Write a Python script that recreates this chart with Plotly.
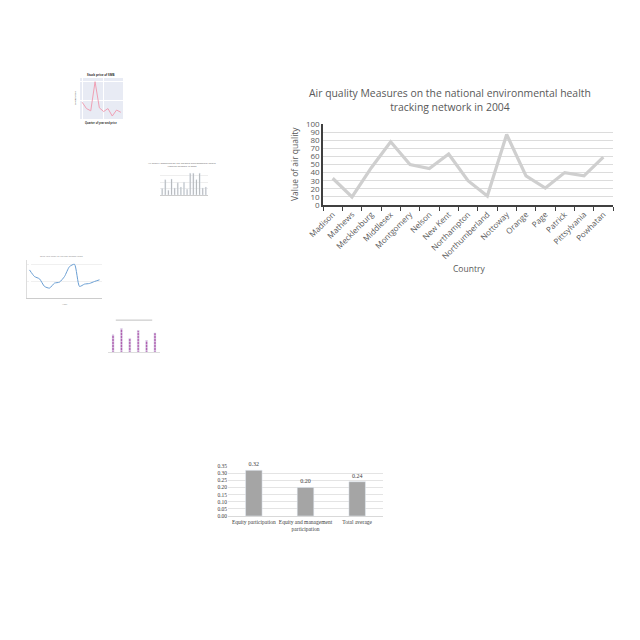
import plotly.graph_objects as go

# ---------------- data ----------------
countries = ["Madison", "Mathews", "Mecklenburg", "Middlesex", "Montgomery", "Nelson",
             "New Kent", "Northampton", "Northumberland", "Nottoway", "Orange", "Page",
             "Patrick", "Pittsylvania", "Powhatan"]
air_quality = [33, 10, 46, 78, 50, 45, 63, 30, 11, 87, 36, 21, 40, 36, 59]

bar_cats = ["Equity participation", "Equity and management<br>participation", "Total average"]
bar_vals = [0.32, 0.20, 0.24]
bar_labels = ["0.32", "0.20", "0.24"]

thumb1_x = list(range(10))
thumb1_y = [45, 28, 22, 100, 30, 20, 28, 8, 24, 18]

thumb2_x = list(range(15))
thumb2_y = [20, 48, 15, 50, 22, 38, 25, 40, 18, 68, 68, 48, 68, 22, 25]

thumb3_x = list(range(15))
thumb3_y = [85, 65, 58, 35, 30, 45, 48, 65, 95, 102, 35, 42, 44, 50, 55]

thumb4_x = list(range(6))
thumb4_y = [48, 65, 38, 60, 32, 53]

OFF = 8          # page body margin
W = H = 624      # figure size so that the figure ends at the window edge


def px(x):
    return (x - OFF) / W


def py(y):
    return 1 - (y - OFF) / H


def dx(a, b):
    return [px(a), px(b)]


def dy(top, bottom):
    return [py(bottom), py(top)]


fig = go.Figure()

# main line chart
fig.add_trace(go.Scatter(x=countries, y=air_quality, mode="lines",
                         line=dict(color="#cfcfcf", width=3.2), xaxis="x", yaxis="y",
                         showlegend=False))
# bottom bar chart
fig.add_trace(go.Bar(x=bar_cats, y=bar_vals, text=bar_labels, textposition="outside",
                     textfont=dict(family="Liberation Serif", size=6, color="#404040"),
                     marker=dict(color="#a5a5a5"), width=0.32, cliponaxis=False,
                     xaxis="x2", yaxis="y2", showlegend=False))
# thumbnail 1
fig.add_trace(go.Scatter(x=thumb1_x, y=thumb1_y, mode="lines",
                         line=dict(color="#f0a0b4", width=1), xaxis="x3", yaxis="y3",
                         showlegend=False))
# thumbnail 2
fig.add_trace(go.Bar(x=thumb2_x, y=thumb2_y, marker=dict(color="#9a9a9a"), width=0.35,
                     xaxis="x4", yaxis="y4", showlegend=False))
# thumbnail 3
fig.add_trace(go.Scatter(x=thumb3_x, y=thumb3_y, mode="lines", line_shape="spline",
                         line=dict(color="#6a9fd4", width=1, smoothing=0.6), xaxis="x5", yaxis="y5",
                         showlegend=False))
# thumbnail 4
fig.add_trace(go.Bar(x=thumb4_x, y=thumb4_y, width=0.25,
                     marker=dict(color="#b060b0", pattern=dict(shape="-", fgcolor="#ffffff", size=3, solidity=0.3)),
                     xaxis="x6", yaxis="y6", showlegend=False))

grey_txt = "#595959"
common = dict(automargin=False)
fig.update_layout(
    width=W, height=H, margin=dict(l=0, r=0, t=0, b=0, pad=0, autoexpand=False),
    paper_bgcolor="white", plot_bgcolor="rgba(0,0,0,0)",
    font=dict(family="Open Sans", color=grey_txt),
    xaxis=dict(domain=dx(323, 613), range=[-0.5, 14.5], tickangle=-45,
               tickfont=dict(size=8, color=grey_txt), showline=True, linecolor="#404040",
               linewidth=1.5, ticks="outside", tickson="boundaries", ticklen=4,
               tickcolor="#404040", showgrid=False, anchor="y", **common),
    yaxis=dict(domain=dy(124, 205), range=[0, 100], dtick=10,
               tickfont=dict(size=8, color=grey_txt), showline=True, linecolor="#404040",
               linewidth=1.5, gridcolor="#dcdcdc", gridwidth=1, ticks="", anchor="x",
               zeroline=False, **common),
    xaxis2=dict(domain=dx(228, 383), range=[-0.5, 2.5], anchor="y2", tickangle=0,
                tickfont=dict(family="Liberation Serif", size=5.5, color="#404040"),
                showline=True, linecolor="#d9d9d9", showgrid=False, ticks="", **common),
    yaxis2=dict(domain=dy(466, 516), range=[0, 0.35], dtick=0.05, tickformat=".2f",
                anchor="x2", tickfont=dict(family="Liberation Serif", size=5.5, color="#404040"),
                gridcolor="#e4e4e4", showline=False, zeroline=False, **common),
    xaxis3=dict(domain=dx(80, 123), range=[-0.5, 9.5], anchor="y3", showticklabels=False,
                gridcolor="white", zeroline=False, **common),
    yaxis3=dict(domain=dy(78, 119), range=[0, 110], anchor="x3", showticklabels=False,
                gridcolor="white", zeroline=False, **common),
    xaxis4=dict(domain=dx(160, 208), range=[-0.7, 14.7], anchor="y4", showticklabels=False,
                showgrid=False, showline=True, linecolor="#cccccc", **common),
    yaxis4=dict(domain=dy(171, 195), range=[0, 75], anchor="x4", showticklabels=False,
                gridcolor="#eeeeee", zeroline=False, **common),
    xaxis5=dict(domain=dx(27, 102), range=[-0.5, 14.5], anchor="y5", showticklabels=False,
                showgrid=False, showline=True, linecolor="#cccccc", **common),
    yaxis5=dict(domain=dy(260, 298), range=[0, 115], anchor="x5", showticklabels=False,
                gridcolor="#f0f0f0", zeroline=False, showline=True, linecolor="#dddddd", **common),
    xaxis6=dict(domain=dx(108, 160), range=[-0.6, 5.6], anchor="y6", showticklabels=False,
                showgrid=False, showline=True, linecolor="#dddddd", **common),
    yaxis6=dict(domain=dy(325, 352), range=[0, 75], anchor="x6", showticklabels=False,
                showgrid=False, zeroline=False, **common),
    shapes=[
        dict(type="rect", xref="x3 domain", yref="y3 domain", x0=0, x1=1, y0=0, y1=1,
             fillcolor="#e8ebf4", line=dict(width=0), layer="below"),
        dict(type="line", xref="x6 domain", yref="y6 domain", x0=0.15, x1=0.85, y0=1.18, y1=1.18,
             line=dict(color="#b0b0b0", width=0.8)),
    ],
)

ann = [
    ("Air quality Measures on the national environmental health<br>tracking network in 2004",
     450, 100, 10.4, grey_txt, 0),
    ("Value of air quality", 294, 164, 8.5, grey_txt, -90),
    ("Country", 469, 268, 8.5, grey_txt, 0),
    ("<b>Stock price of SMB</b>", 101, 75, 3, "#333333", 0),
    ("Selling price", 75, 98, 2.5, "#333333", -90),
    ("<b>Quarter of year and price</b>", 101, 123, 2.5, "#333333", 0),
    ("Air quality measures on the national environmental health<br>tracking network in 2003",
     182, 164, 2.5, "#666666", 0),
    ("Blue line chart of values across years", 62, 256, 2.5, "#888888", 0),
    ("Year", 64, 304, 2.5, "#888888", 0),
]
for text, x, y, size, color, angle in ann:
    fig.add_annotation(text=text, x=px(x), y=py(y), xref="paper", yref="paper",
                       xanchor="center", yanchor="middle", showarrow=False,
                       textangle=angle, font=dict(size=size, color=color), align="center")

fig.write_html("out.html")
